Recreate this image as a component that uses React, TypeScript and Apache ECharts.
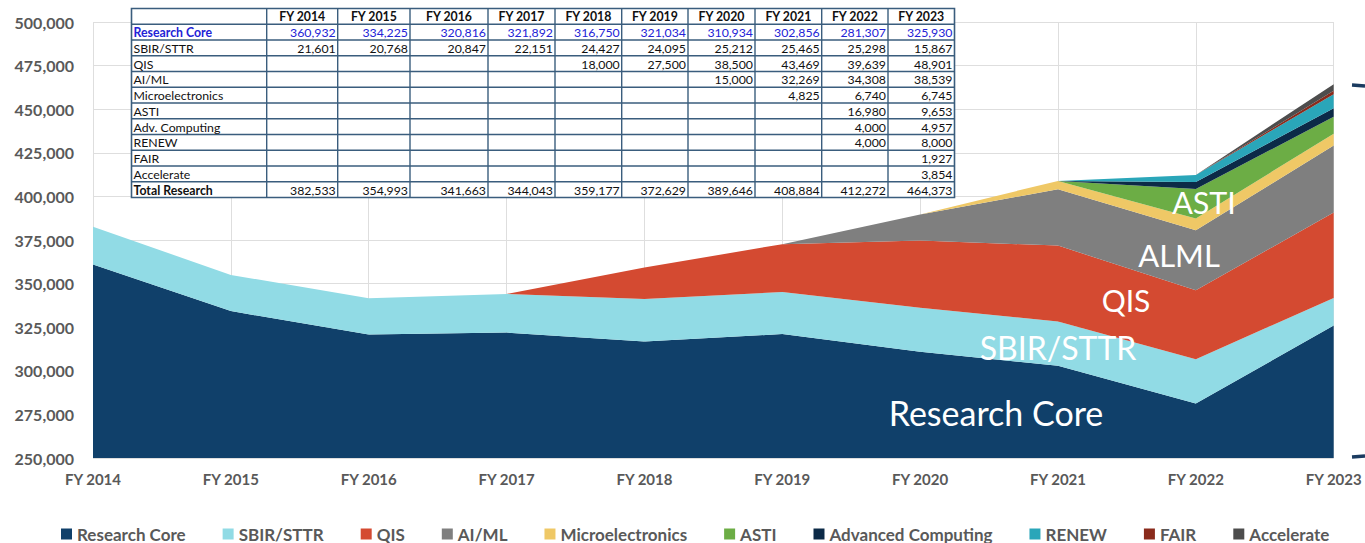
import React, { useEffect, useRef } from "react";
import * as echarts from "echarts";

const years = ["FY 2014", "FY 2015", "FY 2016", "FY 2017", "FY 2018", "FY 2019", "FY 2020", "FY 2021", "FY 2022", "FY 2023"];
const researchCore = [360932, 334225, 320816, 321892, 316750, 321034, 310934, 302856, 281307, 325930];
const sbirSttr = [21601, 20768, 20847, 22151, 24427, 24095, 25212, 25465, 25298, 15867];
const qis = [null, null, null, null, 18000, 27500, 38500, 43469, 39639, 48901];
const aiml = [null, null, null, null, null, null, 15000, 32269, 34308, 38539];
const microelectronics = [null, null, null, null, null, null, null, 4825, 6740, 6745];
const asti = [null, null, null, null, null, null, null, null, 16980, 9653];
const advComputing = [null, null, null, null, null, null, null, null, 4000, 4957];
const renew = [null, null, null, null, null, null, null, null, 4000, 8000];
const fair = [null, null, null, null, null, null, null, null, null, 1927];
const accelerate = [null, null, null, null, null, null, null, null, null, 3854];
const totalResearch = [382533, 354993, 341663, 344043, 359177, 372629, 389646, 408884, 412272, 464373];

const yTicks = { min: 250000, max: 500000, interval: 25000 };

const seriesDefs = [
  { name: "Research Core", table: "Research Core", data: researchCore, color: "#10406a" },
  { name: "SBIR/STTR", table: "SBIR/STTR", data: sbirSttr, color: "#91dbe5" },
  { name: "QIS", table: "QIS", data: qis, color: "#d44a31" },
  { name: "AI/ML", table: "AI/ML", data: aiml, color: "#7f7f7f" },
  { name: "Microelectronics", table: "Microelectronics", data: microelectronics, color: "#efc866" },
  { name: "ASTI", table: "ASTI", data: asti, color: "#6cad45" },
  { name: "Advanced Computing", table: "Adv. Computing", data: advComputing, color: "#0c2a47" },
  { name: "RENEW", table: "RENEW", data: renew, color: "#2aa6b9" },
  { name: "FAIR", table: "FAIR", data: fair, color: "#8a2b1c" },
  { name: "Accelerate", table: "Accelerate", data: accelerate, color: "#4d4d4d" },
];

const chartLabels = [
  { text: "Research Core", x: 996, y: 412, size: 34 },
  { text: "SBIR/STTR", x: 1058, y: 347, size: 32 },
  { text: "QIS", x: 1126, y: 300, size: 30 },
  { text: "ALML", x: 1179, y: 255, size: 31 },
  { text: "ASTI", x: 1204, y: 202, size: 30.5 },
];

const fmt = (v: number | null) => (v == null ? "" : v.toLocaleString("en-US"));

function buildTable() {
  const colEdges = [131.5, 266.7, 337.7, 410, 488, 555, 621.7, 688, 755, 821.7, 888, 954.5];
  const top = 8.5;
  const rowH = 15.75;
  const nRows = 12;
  const bottom = top + rowH * nRows;
  const border = "#3a5d7d";
  const els: any[] = [];
  els.push({
    type: "rect",
    shape: { x: colEdges[0], y: top, width: colEdges[colEdges.length - 1] - colEdges[0], height: bottom - top },
    style: { fill: "#ffffff", stroke: border, lineWidth: 1.6 },
    z: 100,
  });
  for (let i = 1; i < nRows; i++) {
    const y = top + i * rowH;
    els.push({ type: "line", shape: { x1: colEdges[0], y1: y, x2: colEdges[colEdges.length - 1], y2: y }, style: { stroke: border, lineWidth: 1.4 }, z: 101 });
  }
  for (let j = 1; j < colEdges.length - 1; j++) {
    els.push({ type: "line", shape: { x1: colEdges[j], y1: top, x2: colEdges[j], y2: bottom }, style: { stroke: border, lineWidth: 1.4 }, z: 101 });
  }
  const font = "Lato";
  const fs = 12.3;
  years.forEach((yr, j) => {
    els.push({
      type: "text",
      x: (colEdges[j + 1] + colEdges[j + 2]) / 2,
      y: top + rowH / 2 + 0.5,
      style: { text: yr, fill: "#111111", fontFamily: font, fontSize: fs, fontWeight: "bold", align: "center", verticalAlign: "middle" },
      z: 102,
    });
  });
  const rows = seriesDefs.map((s) => ({ label: s.table, data: s.data as (number | null)[] }));
  rows.push({ label: "Total Research", data: totalResearch });
  rows.forEach((r, i) => {
    const cy = top + rowH * (i + 1) + rowH / 2 + 0.5;
    const isCore = i === 0;
    const isTotal = i === rows.length - 1;
    els.push({
      type: "text",
      x: colEdges[0] + 2,
      y: cy,
      style: {
        text: r.label,
        fill: isCore ? "#2323d6" : "#111111",
        fontFamily: font,
        fontSize: fs,
        fontWeight: isCore || isTotal ? "bold" : "normal",
        align: "left",
        verticalAlign: "middle",
      },
      z: 102,
    });
    r.data.forEach((v, j) => {
      if (v == null) return;
      els.push({
        type: "text",
        x: colEdges[j + 2] - 2,
        y: cy,
        style: { text: fmt(v), fill: isCore ? "#2323d6" : "#111111", fontFamily: font, fontSize: fs, align: "right", verticalAlign: "middle" },
        z: 102,
      });
    });
  });
  return els;
}

export default function App() {
  const ref = useRef<HTMLDivElement>(null);
  useEffect(() => {
    document.body.style.margin = "0";
    if (!ref.current) return;
    const chart = echarts.init(ref.current, null, { renderer: "svg" });
    const graphics: any[] = [...buildTable()];
    chartLabels.forEach((l) => {
      graphics.push({
        type: "text",
        x: l.x,
        y: l.y,
        style: { text: l.text, fill: "#ffffff", fontFamily: "Lato", fontSize: l.size, align: "center", verticalAlign: "middle" },
        z: 50,
      });
    });
    graphics.push({ type: "line", shape: { x1: 1352, y1: 85, x2: 1365, y2: 86 }, style: { stroke: "#1b3b60", lineWidth: 3.5 }, z: 50 });
    graphics.push({ type: "line", shape: { x1: 1352, y1: 457, x2: 1365, y2: 456 }, style: { stroke: "#1b3b60", lineWidth: 3.5 }, z: 50 });

    chart.setOption({
      animation: false,
      backgroundColor: "#ffffff",
      grid: { left: 93, right: 25, top: 22, bottom: 85, containLabel: false },
      legend: {
        left: 61,
        top: 525,
        padding: 0,
        icon: "rect",
        itemWidth: 11,
        itemHeight: 11,
        itemGap: 37,
        textStyle: { color: "#595959", fontFamily: "Lato", fontWeight: "bold", fontSize: 17, lineHeight: 18 },
        data: seriesDefs.map((s) => s.name),
      },
      xAxis: {
        type: "category",
        data: years,
        boundaryGap: false,
        axisLine: { show: false },
        axisTick: { show: false },
        axisLabel: { color: "#595959", fontFamily: "Lato", fontWeight: "bold", fontSize: 15, margin: 13 },
        splitLine: { show: true, lineStyle: { color: "#dedede", width: 1 } },
      },
      yAxis: {
        type: "value",
        min: yTicks.min,
        max: yTicks.max,
        interval: yTicks.interval,
        axisLine: { show: false },
        axisTick: { show: false },
        axisLabel: { color: "#595959", fontFamily: "Lato", fontWeight: "bold", fontSize: 16, margin: 19, formatter: (v: number) => v.toLocaleString("en-US") },
        splitLine: { show: true, lineStyle: { color: "#dedede", width: 1 } },
      },
      series: seriesDefs.map((s) => ({
        name: s.name,
        type: "line",
        stack: "total",
        symbol: "none",
        data: (s.data as (number | null)[]).map((v) => (v == null ? 0 : v)),
        itemStyle: { color: s.color },
        lineStyle: { width: 0, color: s.color },
        areaStyle: { color: s.color, opacity: 1 },
        emphasis: { disabled: true },
      })),
      graphic: graphics,
    });
    return () => chart.dispose();
  }, []);
  return <div ref={ref} style={{ position: "absolute", left: 0, top: 0, width: 1365, height: 543 }} />;
}
